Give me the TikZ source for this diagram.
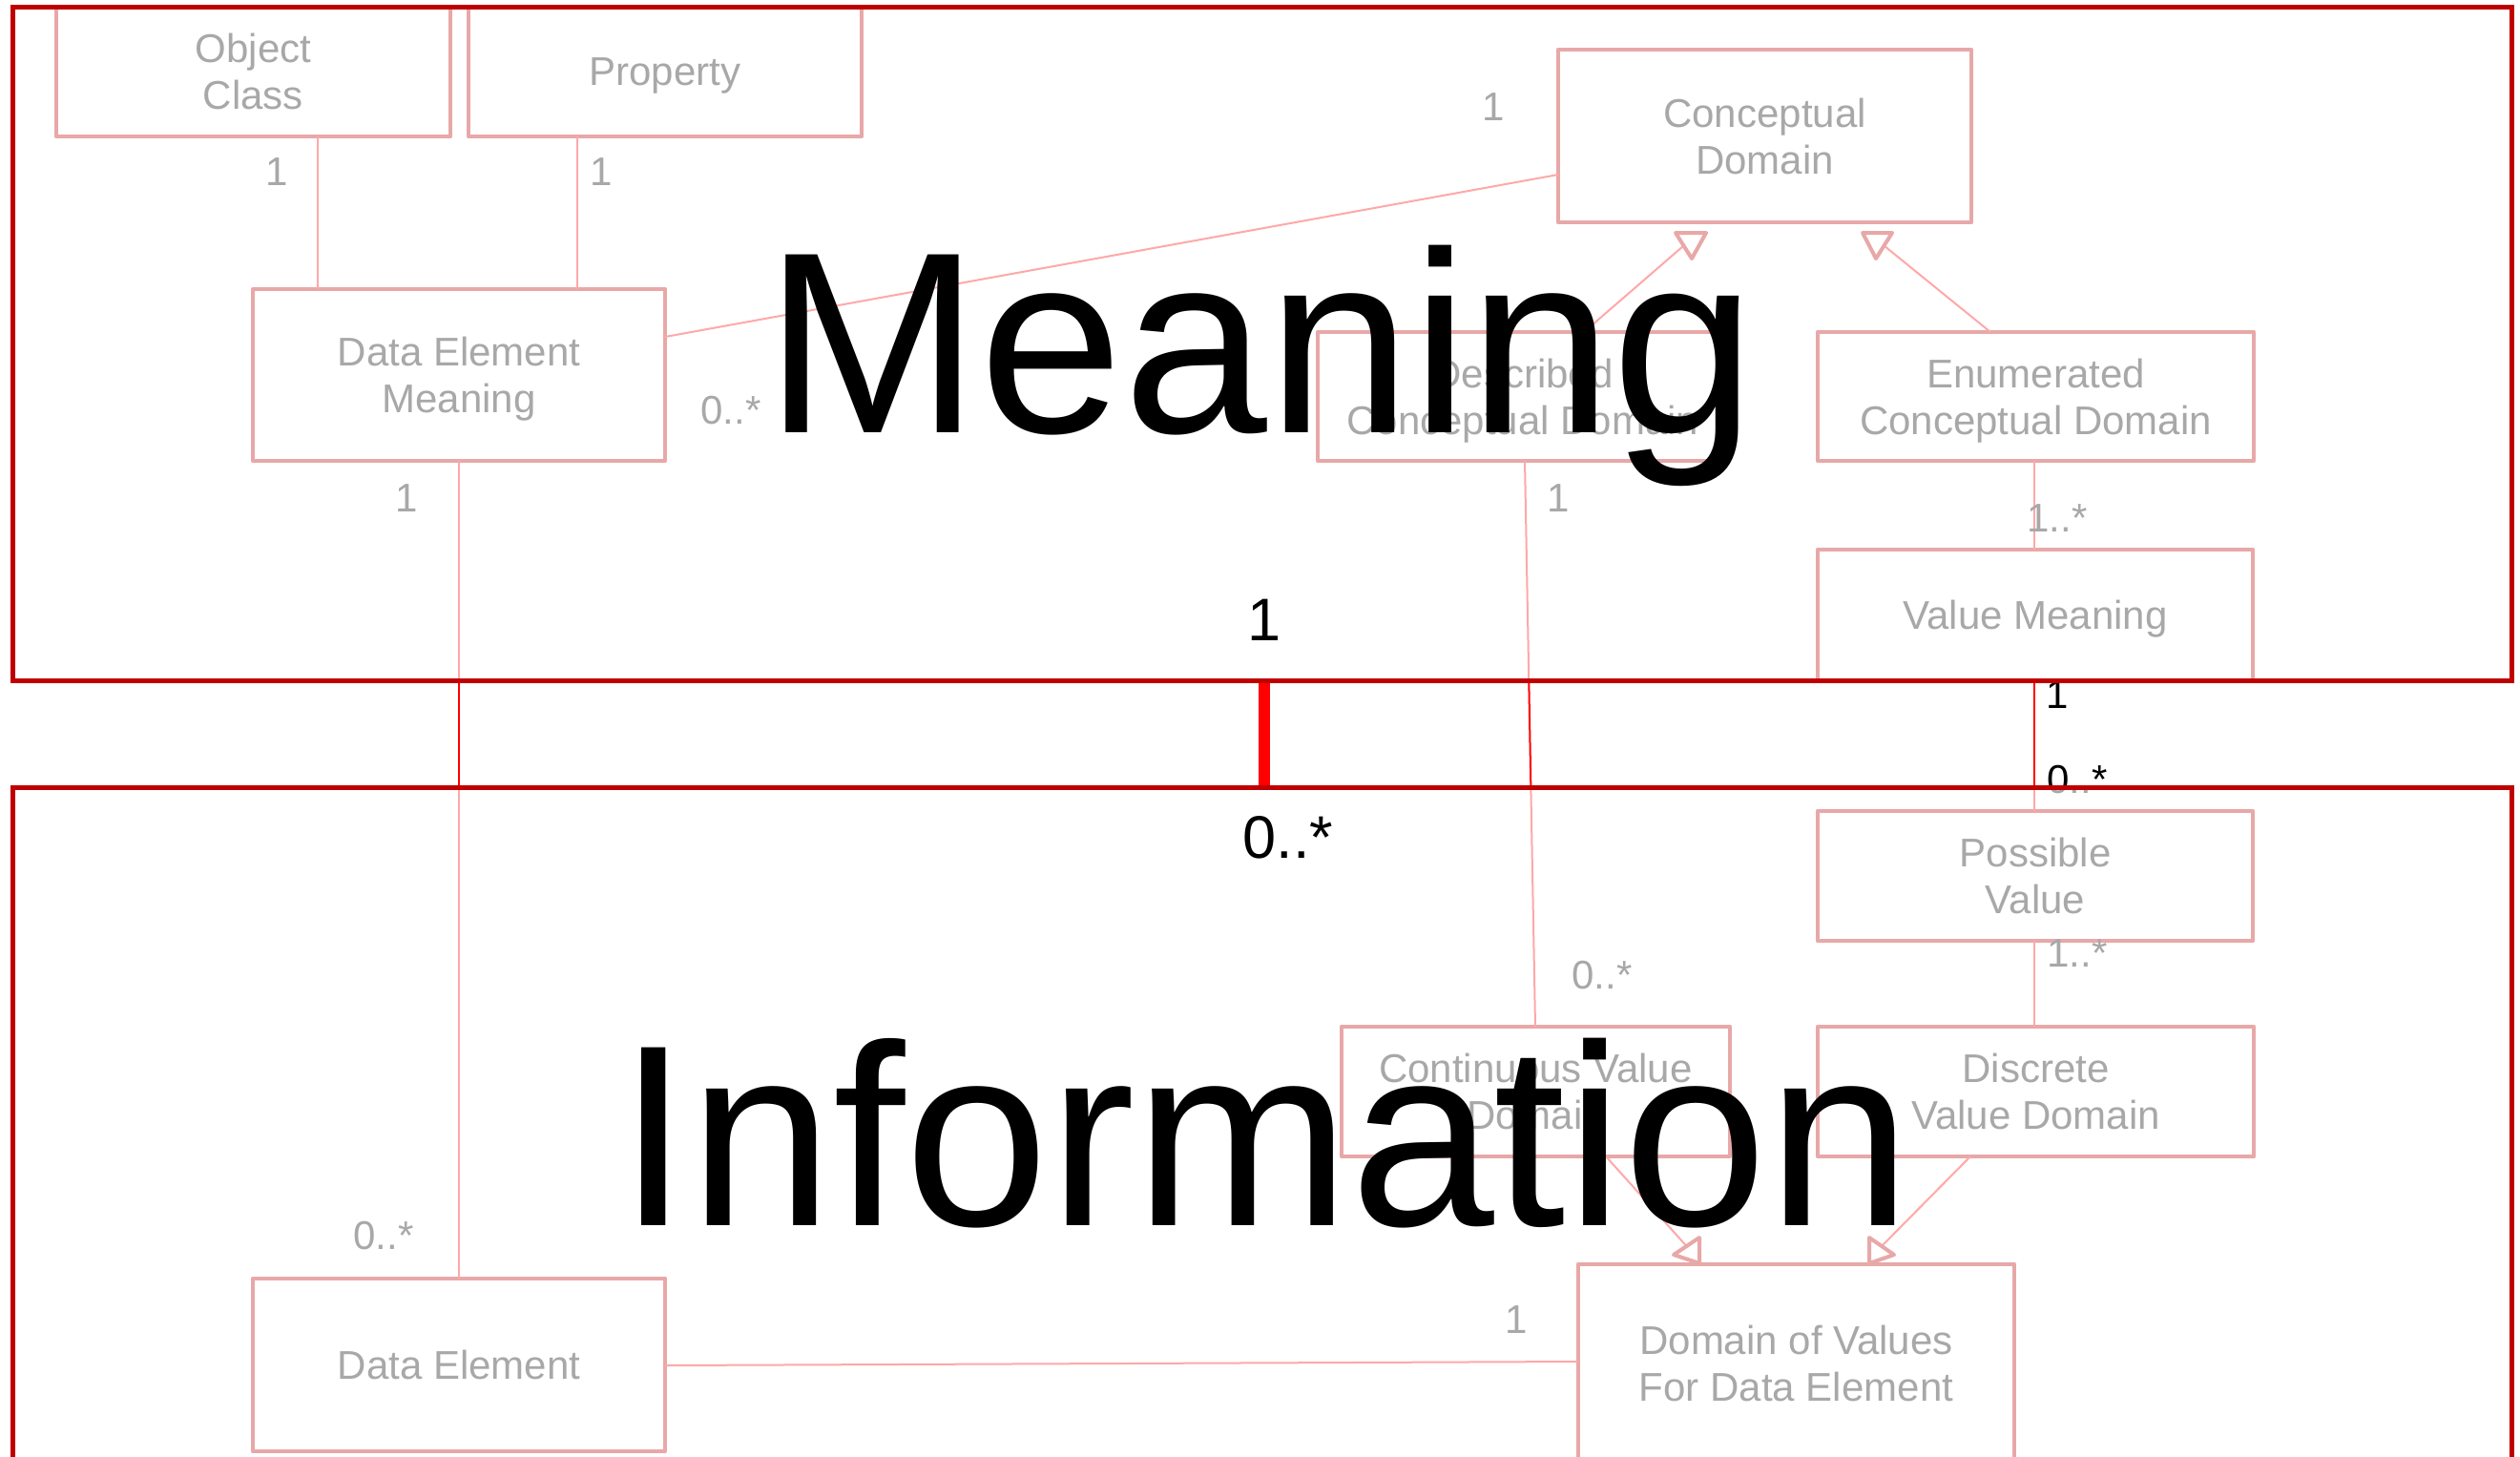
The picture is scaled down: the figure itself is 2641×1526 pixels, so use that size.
\documentclass[tikz,border=0pt]{standalone}
\usepackage{fontspec}
\setmainfont{Liberation Sans}
\definecolor{boxred}{RGB}{190,0,0}
\definecolor{linkred}{RGB}{255,0,0}
\definecolor{framered}{RGB}{192,0,0}
\begin{document}
\begin{tikzpicture}[x=1pt,y=-1pt,
  cls/.style={draw=boxred, line width=4.5pt, line join=round, rectangle,
    outer sep=0pt, inner sep=0pt, align=center, text depth=0pt,
    font=\fontsize{42}{49}\selectfont, text=black},
  assoc/.style={draw=linkred, line width=2pt},
  mult/.style={font=\fontsize{42}{49}\selectfont, inner sep=0pt, text=black},
  gen/.style={draw=boxred, line width=4pt, line join=round, fill=white},
  layer/.style={draw=framered, line width=5pt, rectangle, outer sep=0pt,
    inner sep=0pt, fill=white, fill opacity=0.66, draw opacity=1},
  big/.style={font=\fontsize{271}{300}\selectfont, inner sep=0pt, anchor=base},
  mid/.style={font=\fontsize{63}{70}\selectfont, inner sep=0pt, anchor=base},
  bond/.style={draw=linkred, line width=12pt, shorten <=2.5pt, shorten >=2.5pt}
]
\useasboundingbox (0,0) rectangle (2641,1526);
\clip (0,0) rectangle (2641,1526);

% ---- classes ----
\node[cls, minimum width=413pt, minimum height=136pt] (oc)   at (265.5,75)   {Object\\Class};
\node[cls, minimum width=412pt, minimum height=136pt] (prop) at (697,75)     {Property};
\node[cls, minimum width=433pt, minimum height=181pt] (cd)   at (1849.5,142.5) {Conceptual\\Domain};
\node[cls, minimum width=432pt, minimum height=180pt] (dem)  at (481,393)    {Data Element\\Meaning};
\node[cls, minimum width=430pt, minimum height=135pt] (dcd)  at (1596,415.5) {Described\\Conceptual Domain};
\node[cls, minimum width=457pt, minimum height=135pt] (ecd)  at (2133.5,415.5) {Enumerated\\Conceptual Domain};
\node[cls, minimum width=456pt, minimum height=137pt] (vm)   at (2133,644.5) {Value Meaning};
\node[cls, minimum width=456pt, minimum height=136pt] (pv)   at (2133,918)   {Possible\\Value};
\node[cls, minimum width=407pt, minimum height=136pt] (cvd)  at (1609.5,1144) {Continuous Value\\Domain};
\node[cls, minimum width=457pt, minimum height=136pt] (dvd)  at (2133.5,1144) {Discrete\\Value Domain};
\node[cls, minimum width=432pt, minimum height=181pt] (de)   at (481,1430.5) {Data Element};
\node[cls, minimum width=457pt, minimum height=208pt] (dov)  at (1882.5,1429) {Domain of Values\\For Data Element};

% ---- generalisation heads ----
\coordinate (g1) at (1764.5,257.5);
\coordinate (g2) at (1974.5,257.5);
\coordinate (g3) at (1767.5,1306);
\coordinate (g4) at (1972,1306);

% ---- associations ----
\draw[assoc] (oc.south -| 333,0) -- (dem.north -| 333,0);
\draw[assoc] (prop.south -| 605,0) -- (dem.north -| 605,0);
\draw[assoc] (dem.east |- 0,353) -- (cd.west |- 0,183);
\draw[assoc] (dem.south) -- (de.north);
\draw[assoc] (dcd.south -| 1598,0) -- (cvd.north -| 1609,0);
\draw[assoc] (ecd.south -| 2132,0) -- (vm.north -| 2132,0);
\draw[assoc] (vm.south -| 2132,0) -- (pv.north -| 2132,0);
\draw[assoc] (pv.south -| 2132,0) -- (dvd.north -| 2132,0);
\draw[assoc] (de.east |- 0,1431) -- (dov.west |- 0,1427);
\draw[assoc] (dcd.north -| 1660,0) -- (g1);
\draw[assoc] (ecd.north -| 2086,0) -- (g2);
\draw[assoc] (cvd.south -| 1683,0) -- (g3);
\draw[assoc] (dvd.south -| 2065,0) -- (g4);

\draw[gen] (1756,244) -- (1788,244) -- (1773,271) -- cycle;
\draw[gen] (1952,244) -- (1983,244) -- (1966,271) -- cycle;
\draw[gen] (1781,1297) -- (1781,1324) -- (1754,1315) -- cycle;
\draw[gen] (1959,1297) -- (1959,1324) -- (1985,1315) -- cycle;

% ---- multiplicities ----
\node[mult] (m1)  at (290,180)  {1};
\node[mult] (m2)  at (630,180)  {1};
\node[mult] (m3)  at (766,430)  {0..*};
\node[mult] (m4)  at (1565,112) {1};
\node[mult] (m5)  at (426,522)  {1};
\node[mult] (m6)  at (1633,522) {1};
\node[mult] (m7)  at (2156,543) {1..*};
\node[mult] (m8)  at (2156,728) {1};
\node[mult] (m9)  at (2177,817) {0..*};
\node[mult] (m10) at (2177,999) {1..*};
\node[mult] (m11) at (1679,1022) {0..*};
\node[mult] (m12) at (402,1295) {0..*};
\node[mult] (m13) at (1589,1383) {1};

% ---- layers ----
\node[layer, minimum width=2619pt, minimum height=706pt] (meaning) at (1322.5,360) {};
\node[layer, minimum width=2619pt, minimum height=775pt] (information) at (1322.5,1212.5) {};
\draw[bond] (meaning.south -| 1325,0) -- (information.north -| 1325,0);

\node[big] (tmeaning) at (1321,453) {Meaning};
\node[big] (tinfo) at (1325,1284) {Information};
\node[mid] (lone) at (1325,671) {1};
\node[mid] (lmany) at (1350,899) {0..*};
\end{tikzpicture}
\end{document}
